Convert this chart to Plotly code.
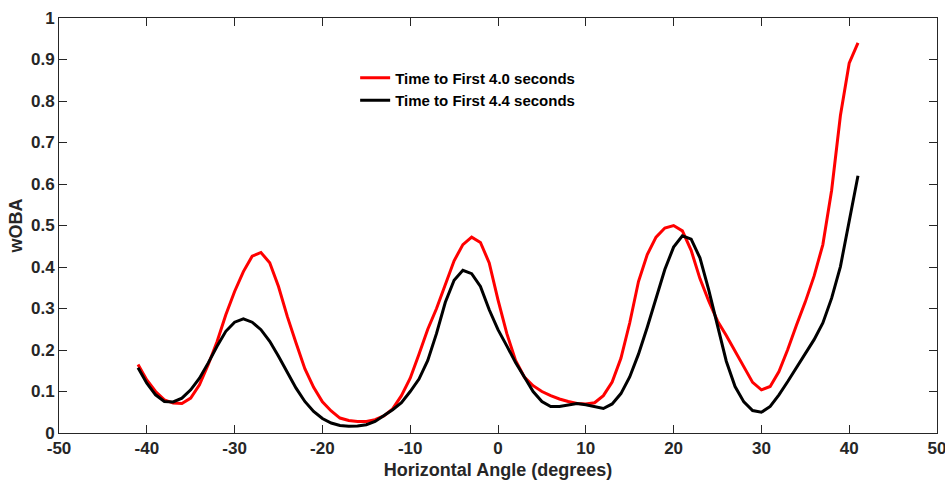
import plotly.graph_objects as go

angles = list(range(-41, 42))

woba_40 = [0.165, 0.128, 0.100, 0.080, 0.072, 0.071, 0.084, 0.116, 0.165, 0.220,
           0.285, 0.341, 0.389, 0.426, 0.435, 0.410, 0.353, 0.281, 0.217, 0.155,
           0.110, 0.075, 0.053, 0.036, 0.030, 0.028, 0.028, 0.032, 0.041, 0.058,
           0.090, 0.132, 0.190, 0.250, 0.300, 0.360, 0.415, 0.454, 0.472, 0.459,
           0.410, 0.321, 0.240, 0.175, 0.135, 0.114, 0.100, 0.090, 0.082, 0.076,
           0.071, 0.070, 0.073, 0.090, 0.123, 0.180, 0.265, 0.365, 0.430, 0.472,
           0.494, 0.500, 0.487, 0.440, 0.372, 0.318, 0.270, 0.235, 0.198, 0.160,
           0.122, 0.104, 0.112, 0.148, 0.201, 0.260, 0.316, 0.378, 0.454, 0.585,
           0.765, 0.891, 0.940]

woba_44 = [0.157, 0.120, 0.092, 0.076, 0.075, 0.084, 0.104, 0.132, 0.169, 0.209,
           0.245, 0.267, 0.275, 0.267, 0.249, 0.221, 0.185, 0.145, 0.108, 0.076,
           0.052, 0.035, 0.024, 0.018, 0.016, 0.017, 0.020, 0.028, 0.042, 0.056,
           0.073, 0.100, 0.130, 0.175, 0.240, 0.315, 0.368, 0.392, 0.384, 0.353,
           0.297, 0.249, 0.210, 0.170, 0.135, 0.100, 0.076, 0.064, 0.064, 0.068,
           0.071, 0.068, 0.063, 0.059, 0.070, 0.095, 0.135, 0.190, 0.255, 0.325,
           0.394, 0.448, 0.475, 0.467, 0.422, 0.345, 0.257, 0.173, 0.112, 0.075,
           0.054, 0.050, 0.064, 0.092, 0.124, 0.157, 0.189, 0.225, 0.265, 0.325,
           0.401, 0.514, 0.620]

series_names = ["Time to First 4.0 seconds", "Time to First 4.4 seconds"]
x_ticks = [-50, -40, -30, -20, -10, 0, 10, 20, 30, 40, 50]
y_ticks = [0, 0.1, 0.2, 0.3, 0.4, 0.5, 0.6, 0.7, 0.8, 0.9, 1]
y_tick_labels = ["0", "0.1", "0.2", "0.3", "0.4", "0.5", "0.6", "0.7", "0.8", "0.9", "1"]

font_family = "Liberation Sans, Arial, sans-serif"
axis_color = "#262626"

fig = go.Figure()
fig.add_trace(go.Scatter(x=angles, y=woba_40, mode="lines", name=series_names[0],
                         line=dict(color="#ff0000", width=3)))
fig.add_trace(go.Scatter(x=angles, y=woba_44, mode="lines", name=series_names[1],
                         line=dict(color="#000000", width=3)))

axis_common = dict(
    showline=True, linecolor=axis_color, linewidth=1, mirror="allticks",
    ticks="inside", ticklen=8, tickwidth=1, tickcolor=axis_color,
    showgrid=False, zeroline=False, automargin=False, ticklabeloverflow="allow",
    tickfont=dict(family=font_family, size=17, color=axis_color, weight="bold"),
)

fig.update_layout(
    width=945, height=480,
    margin=dict(l=59, r=8, t=18, b=47),
    paper_bgcolor="white", plot_bgcolor="white",
    xaxis=dict(range=[-50, 50], tickvals=x_ticks, ticktext=[str(v) for v in x_ticks],
               ticklabelstandoff=0,
               title=dict(text="Horizontal Angle (degrees)", standoff=10,
                          font=dict(family=font_family, size=18, color=axis_color, weight="bold")),
               **axis_common),
    yaxis=dict(range=[0, 1], tickvals=y_ticks, ticktext=y_tick_labels,
               title=dict(text="wOBA", standoff=3,
                          font=dict(family=font_family, size=18, color=axis_color, weight="bold")),
               **axis_common),
    legend=dict(x=0.3373, y=0.895, xanchor="left", yanchor="top",
                bgcolor="rgba(0,0,0,0)", borderwidth=0, tracegroupgap=0,
                font=dict(family=font_family, size=15, color="#000000", weight="bold")),
    showlegend=True,
)

fig.write_html("out.html", config={"displayModeBar": False},
               post_script="document.body.style.margin='0';")
